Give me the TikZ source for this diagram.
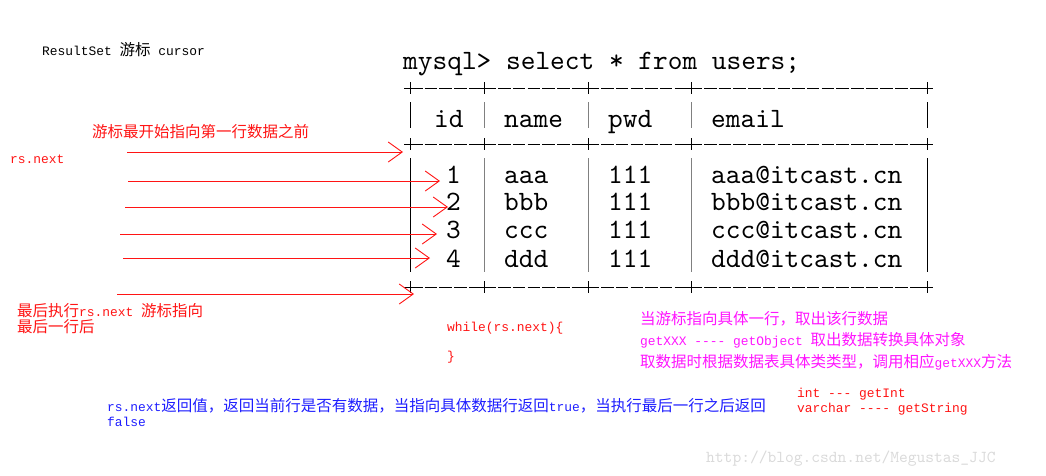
\documentclass[tikz,border=0pt]{standalone}
\usepackage{fontspec}
\setmainfont{Noto Sans CJK SC}
\setmonofont[Scale=0.833]{Liberation Mono}
\newfontfamily\tabfont[Extension=.otf]{lmmono10-regular}
\usetikzlibrary{arrows.meta}

\definecolor{cursorred}{RGB}{255,20,20}
\definecolor{notemag}{RGB}{255,20,255}
\definecolor{noteblue}{RGB}{30,30,255}
\definecolor{markgray}{RGB}{218,218,218}

\tikzset{
  note/.style={anchor=base west, inner sep=0pt, font=\fontsize{15.5}{15.5}\selectfont},
  cell/.style={anchor=base west, inner sep=0pt, font=\fontsize{28}{28}\tabfont},
  rowarrow/.style={cursorred, line width=0.9pt, -{Straight Barb[length=14pt,width=20pt,line width=0.9pt]}},
  border/.style={line width=0.9pt, dash pattern=on 12.5pt off 2.2pt},
  bar/.style={line width=1pt}
}

\begin{document}
\begin{tikzpicture}[x=1pt, y=-1pt]
    \useasboundingbox (0,0) rectangle (1046,475);

    % Tiêu đề
    \node[note] (caption) at (42,55) {\texttt{ResultSet }游标\texttt{ cursor}};

    % Bảng kết quả truy vấn
    \node[cell] (query) at (403,69) {mysql> select * from users;};
    \foreach \yb in {88,144,287}{
        \draw[border] (410,\yb) -- (927,\yb);
        \foreach \xb in {410,484,588,691,927}
            \draw[line width=0.9pt] (\xb-6,\yb) -- (\xb+6,\yb) (\xb,\yb-6) -- (\xb,\yb+6);
    }
    \foreach \xb/\cl in {410/black,484/black!50,588/black!50,691/black!50,927/black}{
        \draw[bar,\cl] (\xb,102) -- (\xb,128);
        \draw[bar,\cl] (\xb,158) -- (\xb,272);
    }
    \node[cell] (hid) at (434,127) {id};
    \node[cell] (hname) at (504,127) {name};
    \node[cell] (hpwd) at (608,127) {pwd};
    \node[cell] (hemail) at (711,127) {email};
    \foreach \i/\nm/\yr in {1/aaa/183,2/bbb/210,3/ccc/238,4/ddd/267}{
        \node[cell] (id\i) at (446,\yr) {\i};
        \node[cell] (name\i) at (504,\yr) {\nm};
        \node[cell] (pwd\i) at (608,\yr) {111};
        \node[cell] (email\i) at (711,\yr) {\nm @itcast.cn};
    }

    % Các mũi tên con trỏ
    \coordinate (s0) at (127,152); \coordinate (t0) at (403,152);
    \coordinate (s1) at (128,181); \coordinate (t1) at (440,181);
    \coordinate (s2) at (125,207); \coordinate (t2) at (448,207);
    \coordinate (s3) at (120,234); \coordinate (t3) at (437,234);
    \coordinate (s4) at (123,258); \coordinate (t4) at (430,258);
    \coordinate (s5) at (117,294); \coordinate (t5) at (414,294);
    \foreach \k in {0,...,5}
        \draw[rowarrow] (s\k) -- (t\k);

    % Chú thích màu đỏ
    \node[note, cursorred] (before) at (92,137) {游标最开始指向第一行数据之前};
    \node[note, cursorred] (next) at (10,163) {\texttt{rs.next}};
    \node[note, cursorred] (last1) at (17,316) {最后执行\texttt{rs.next }游标指向};
    \node[note, cursorred] (last2) at (17,332) {最后一行后};
    \node[note, cursorred] (loop1) at (447,331) {\texttt{while(rs.next)\{}};
    \node[note, cursorred] (loop2) at (447,360) {\texttt{\}}};
    \node[note, cursorred] (map1) at (797,397) {\texttt{int --- getInt}};
    \node[note, cursorred] (map2) at (797,412) {\texttt{varchar ---- getString}};

    % Chú thích màu tím
    \node[note, notemag] (get1) at (640,324) {当游标指向具体一行，取出该行数据};
    \node[note, notemag] (get2) at (640,345) {\texttt{getXXX ---- getObject }取出数据转换具体对象};
    \node[note, notemag] (get3) at (640,367) {取数据时根据数据表具体类类型，调用相应\texttt{getXXX}方法};

    % Chú thích màu xanh
    \node[note, noteblue] (ret1) at (107,411) {\texttt{rs.next}返回值，返回当前行是否有数据，当指向具体数据行返回\texttt{true}，当执行最后一行之后返回};
    \node[note, noteblue] (ret2) at (107,426) {\texttt{false}};

    \node[anchor=base west, inner sep=0pt, markgray, font=\fontsize{16.7}{16.7}\tabfont] (mark) at (706,462) {http://blog.csdn.net/Megustas\_JJC};
\end{tikzpicture}
\end{document}
